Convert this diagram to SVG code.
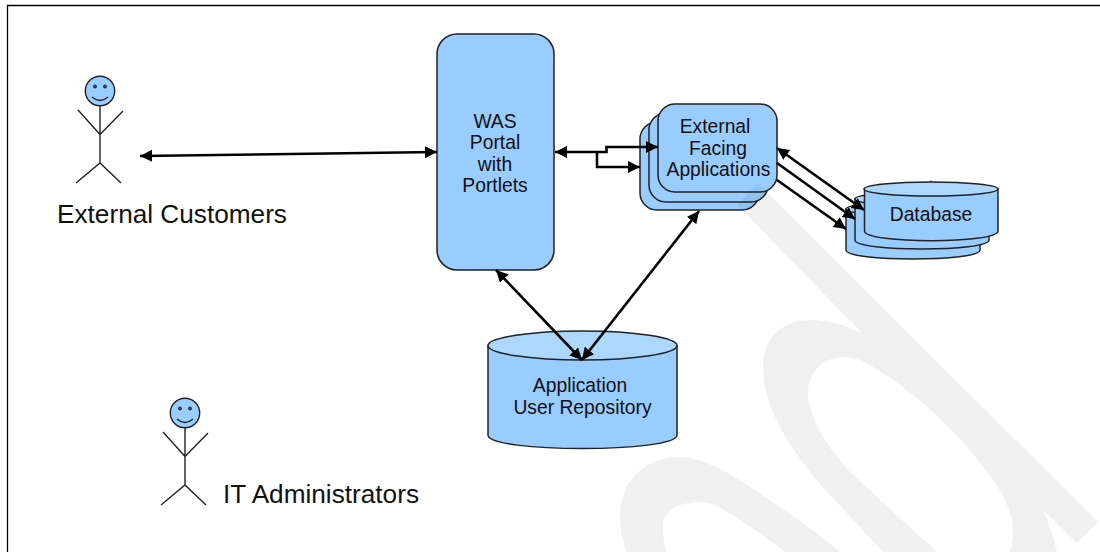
<svg xmlns="http://www.w3.org/2000/svg" width="1100" height="552" viewBox="0 0 1100 552">
<style>
text{font-family:"Liberation Sans",Arial,sans-serif;fill:#111;text-anchor:middle}
.n{font-size:19.300px}
.l{font-size:26.200px}
.box{fill:#99ccff;stroke:#222;stroke-width:1.5}
.top{fill:#acd7ff;stroke:#222;stroke-width:1.5}
.stick{fill:none;stroke:#222;stroke-width:1.4}
.c{fill:none;stroke:#000;stroke-width:2.600;marker-end:url(#a)}
.b{marker-start:url(#a)}
</style>
<defs>
<marker id="a" markerUnits="userSpaceOnUse" markerWidth="14" markerHeight="14" refX="12" refY="6" orient="auto-start-reverse"><path d="M0 0L12 6L0 12z" fill="#000"/></marker>
<g id="actor">
<circle cx="100" cy="91" r="14.7" fill="#99ccff" stroke="#222" stroke-width="1.4"/>
<circle cx="95" cy="86.500" r="1.500" fill="#445" stroke="#222"/>
<circle cx="105" cy="86.500" r="1.500" fill="#445" stroke="#222"/>
<path class="stick" d="M92 97Q100 104 108 97M100 106V163M78 110L100 134.500L123 111M76 183L100 163L121 183"/>
</g>
</defs>
<rect width="1100" height="552" fill="#fff"/>
<path d="M7.500 552V5.500H1100" fill="none" stroke="#000" stroke-width="1.300"/>
<g id="customers"><use href="#actor"/><text class="l" x="172" y="223">External Customers</text></g>
<g id="admins"><use href="#actor" x="85" y="322"/><text class="l" x="321" y="503">IT Administrators</text></g>
<g id="portal"><rect class="box" x="437" y="34" width="117" height="236" rx="20"/>
<text class="n" x="495" y="127.500">WAS</text><text class="n" x="495" y="149">Portal</text><text class="n" x="495" y="170.500">with</text><text class="n" x="495" y="192">Portlets</text></g>
<g id="apps"><rect class="box" x="640" y="122" width="119" height="88" rx="17"/><rect class="box" x="649" y="113" width="119" height="89" rx="17"/><rect class="box" x="658" y="104" width="119" height="88" rx="17"/>
<text class="n" x="715" y="133">External</text><text class="n" x="718" y="155">Facing</text><text class="n" x="718.500" y="176">Applications</text></g>
<g id="database">
<path class="box" d="M846 209V250C846 262 980 262 980 250V209z"/><ellipse class="top" cx="913" cy="209" rx="67" ry="7"/>
<path class="box" d="M855 199V240C855 252 989 252 989 240V199z"/><ellipse class="top" cx="922" cy="199" rx="67" ry="7"/>
<path class="box" d="M864.500 189V231C864.500 244 998 244 998 231V189z"/><ellipse class="top" cx="931" cy="189" rx="67" ry="7"/>
<path d="M931 180.500V182" stroke="#222"/>
<text class="n" x="931" y="220.500">Database</text></g>
<g id="repository">
<path class="box" d="M488 346V435C488 453 677 453 677 435V346z"/><ellipse class="top" cx="582.500" cy="345.500" rx="94.500" ry="14.500"/>
<text class="n" x="580" y="392">Application</text><text class="n" x="582.500" y="413.500">User Repository</text></g>
<g id="connectors">
<path class="c b" d="M140 156L437 152"/>
<path class="c b" d="M555 152H606.500V147H658"/>
<path class="c" d="M597 152V167H640"/>
<path class="c b" d="M777 148L864 210"/>
<path class="c" d="M777 163L855 219"/>
<path class="c" d="M777 180L846 229"/>
<path class="c b" d="M496 270L582 360"/>
<path class="c b" d="M699 211L582 360"/>
</g>
<path id="watermark" fill="#000" fill-opacity=".06" fill-rule="evenodd" d="M758 183L1098 522L1077 543L1043 510Q1052 530 1057 552H1010C1020 520 1005 490 967 447C930 405 890 375 860 360C835 350 808 365 808 393C808 415 825 445 850 472L937 552H883L830 495C785 445 763 405 763 367C763 335 785 320 810 320C828 320 845 325 862 333L737 205z"/>
<path fill="#000" fill-opacity=".06" d="M627 552C622 540 620 530 620 517C620 480 645 457 680 457C700 457 725 470 750 487C780 507 815 530 840 552H785C770 540 755 530 740 520C725 510 712 502 700 502C680 502 663 510 663 525C663 535 664 545 667 552z"/>
</svg>
